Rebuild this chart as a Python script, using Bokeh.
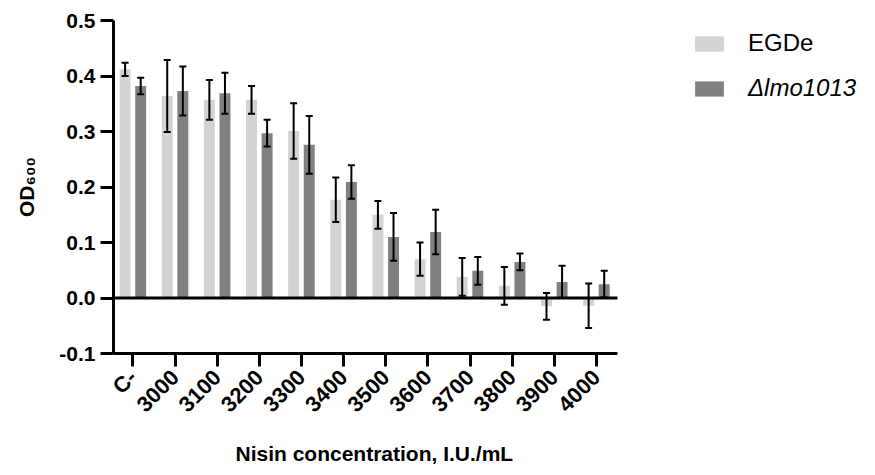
import numpy as np
from math import pi
from bokeh.plotting import figure
from bokeh.models import (Range1d, ColumnDataSource, Whisker, TeeHead, Title,
                          FixedTicker, Legend, LegendItem, NumeralTickFormatter)
from bokeh.embed import file_html
from bokeh.resources import INLINE

categories = ["C-", "3000", "3100", "3200", "3300", "3400", "3500",
              "3600", "3700", "3800", "3900", "4000"]
egde_mean = [0.412, 0.364, 0.357, 0.357, 0.301, 0.177, 0.150, 0.070, 0.038, 0.022, -0.015, -0.014]
egde_err = [0.012, 0.065, 0.036, 0.025, 0.050, 0.040, 0.025, 0.030, 0.034, 0.034, 0.024, 0.040]
mut_mean = [0.382, 0.373, 0.369, 0.297, 0.276, 0.209, 0.110, 0.119, 0.049, 0.065, 0.029, 0.025]
mut_err = [0.015, 0.044, 0.037, 0.024, 0.052, 0.030, 0.043, 0.040, 0.025, 0.015, 0.029, 0.024]
y_ticks = [-0.1, 0.0, 0.1, 0.2, 0.3, 0.4, 0.5]

FONT = "Liberation Sans"
LIGHT = "#d3d3d3"
DARK = "#808080"
OFF = 0.185
BW = 0.26

n = len(categories)
X_LO, X_HI = -0.46, n - 0.5          # extent of the drawn x axis
X_END = X_LO + 762 / 42.14            # frame continues to the right for the legend

idx = np.arange(n)
src_a = ColumnDataSource(dict(x=idx - OFF, top=egde_mean,
                              lo=np.array(egde_mean) - np.array(egde_err),
                              hi=np.array(egde_mean) + np.array(egde_err)))
src_b = ColumnDataSource(dict(x=idx + OFF, top=mut_mean,
                              lo=np.array(mut_mean) - np.array(mut_err),
                              hi=np.array(mut_mean) + np.array(mut_err)))

p = figure(width=875, height=475, output_backend="svg", toolbar_location=None,
           x_range=Range1d(X_LO, X_END), y_range=Range1d(-0.1, 0.5),
           min_border_left=113, min_border_right=0, min_border_top=20,
           min_border_bottom=122)
p.outline_line_color = None
p.xgrid.grid_line_color = None
p.ygrid.grid_line_color = None
p.background_fill_color = "white"

ra = p.vbar(x="x", top="top", bottom=0, width=BW, source=src_a,
            fill_color=LIGHT, line_color=None)
rb = p.vbar(x="x", top="top", bottom=0, width=BW, source=src_b,
            fill_color=DARK, line_color=None)

# zero baseline across the drawn axis extent
p.segment(x0=[X_LO], y0=[0], x1=[X_HI], y1=[0], line_color="black", line_width=3)

for s in (src_a, src_b):
    w = Whisker(base="x", upper="hi", lower="lo", source=s, level="annotation",
                line_color="black", line_width=2,
                upper_head=TeeHead(size=7, line_width=2, line_color="black"),
                lower_head=TeeHead(size=7, line_width=2, line_color="black"))
    p.add_layout(w)

# axes
p.xaxis.bounds = (X_LO, X_HI)
p.xaxis.ticker = FixedTicker(ticks=list(idx))
p.xaxis.major_label_overrides = {int(i): c for i, c in zip(idx, categories)}
p.xaxis.major_label_orientation = pi / 4
p.xaxis.minor_tick_line_color = None
p.yaxis.ticker = FixedTicker(ticks=y_ticks)
p.yaxis.formatter = NumeralTickFormatter(format="0.0")
p.yaxis.minor_tick_line_color = None
for ax in (p.xaxis[0], p.yaxis[0]):
    ax.axis_line_width = 3
    ax.major_tick_line_width = 3
    ax.major_tick_out = 13
    ax.major_tick_in = 0
    ax.major_label_text_font = FONT
    ax.major_label_text_font_style = "bold"
    ax.major_label_text_font_size = "21px"
    ax.major_label_text_color = "black"
    ax.axis_label_text_font = FONT
    ax.axis_label_text_font_style = "bold"
    ax.axis_label_text_font_size = "21px"
    ax.axis_label_text_color = "black"
p.xaxis.major_label_text_font_size = "22px"
p.yaxis.axis_label = "OD₆₀₀"
p.xaxis.major_label_standoff = 7
p.yaxis.major_label_standoff = 5
p.yaxis.axis_label_standoff = 18

xtitle = Title(text="Nisin concentration, I.U./mL", align="left", offset=122,
               text_font=FONT, text_font_style="bold", text_font_size="21px",
               text_color="black", standoff=22)
p.add_layout(xtitle, "below")

common = dict(border_line_color=None, background_fill_alpha=0, padding=0, margin=0,
              glyph_width=36, glyph_height=19, label_standoff=21,
              label_text_font=FONT, label_text_font_size="24px",
              label_text_color="black")
leg1 = Legend(items=[LegendItem(label="EGDe", renderers=[ra])],
              location=(578, 296), **common)
leg2 = Legend(items=[LegendItem(label="Δlmo1013", renderers=[rb])],
              location=(578, 251), label_text_font_style="italic", **common)
p.add_layout(leg1)
p.add_layout(leg2)

open("out.html", "w").write(file_html(p, INLINE))
